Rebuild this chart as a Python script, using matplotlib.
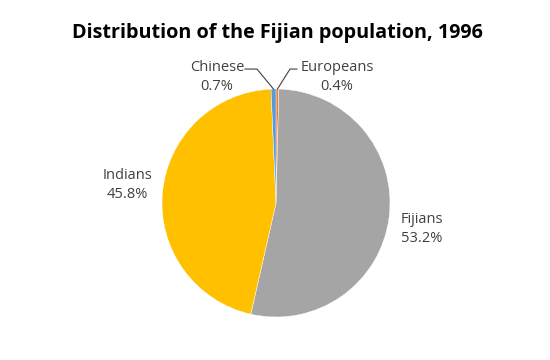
import numpy as np
import matplotlib.pyplot as plt

plt.rcParams['font.family'] = ['Open Sans', 'DejaVu Sans']

groups = ['Europeans', 'Fijians', 'Indians', 'Chinese']
shares = [0.4, 53.2, 45.8, 0.7]
colors = ['#ED7D31', '#A5A5A5', '#FFC000', '#5B9BD5']

fig = plt.figure(figsize=(5.5, 3.6), dpi=100)
ax = fig.add_axes([162 / 550, 43 / 360, 228 / 550, 228 / 360])
wedges, _ = ax.pie(shares, colors=colors, startangle=90, counterclock=False,
                   radius=1, wedgeprops=dict(linewidth=0.3, edgecolor='white'))
ax.set_xlim(-1, 1)
ax.set_ylim(-1, 1)
ax.set_aspect('equal')

# label positions (data coords of the pie)
label_pos = {
    'Europeans': (0.535, 1.105),
    'Fijians': (1.28, -0.225),
    'Indians': (-1.30, 0.16),
    'Chinese': (-0.518, 1.105),
}
for w, g, s in zip(wedges, groups, shares):
    x, y = label_pos[g]
    ax.text(x, y, f'{g}\n{s}%', ha='center', va='center', fontsize=10.5,
            color='#404040', linespacing=1.38, clip_on=False)
    mid = np.deg2rad((w.theta1 + w.theta2) / 2)
    px, py = np.cos(mid), np.sin(mid)
    if g == 'Chinese':
        ax.plot([-0.272, -0.167, px], [1.175, 1.175, py], color='#404040', lw=0.8, clip_on=False)
    elif g == 'Europeans':
        ax.plot([0.184, 0.123, px], [1.175, 1.175, py], color='#404040', lw=0.8, clip_on=False)

fig.text(0.505, 0.908, 'Distribution of the Fijian population, 1996', ha='center', va='center',
         fontsize=14.2, fontweight='bold', color='black')

fig.savefig('out.png', dpi=100)
